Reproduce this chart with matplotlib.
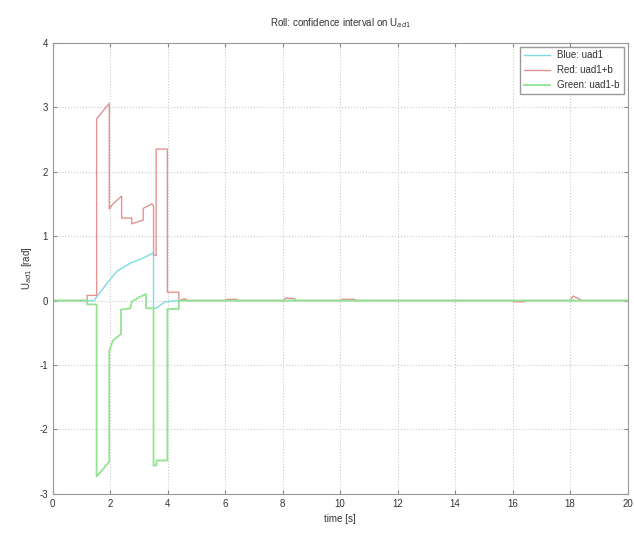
import matplotlib.pyplot as plt

plt.rcParams['font.family'] = ['Liberation Sans', 'DejaVu Sans']
plt.rcParams['axes.unicode_minus'] = False

# knot points (time [s], value [rad])
blue_t = [0, 1.45, 1.55, 1.95, 2.25, 2.7, 3.1, 3.51, 3.51, 3.6, 3.9, 4.4, 20]
blue_y = [0, 0.0, 0.07, 0.30, 0.46, 0.58, 0.65, 0.74, -0.12, -0.12, -0.02, 0.0, 0]

red_t = [0, 1.2, 1.2, 1.53, 1.53, 1.97, 1.97, 2.1, 2.4, 2.4, 2.75, 2.75, 3.15,
         3.15, 3.45, 3.51, 3.51, 3.6, 3.6, 3.99, 3.99, 4.39, 4.39, 4.6, 4.7,
         6.0, 6.05, 6.4, 6.45, 8.0, 8.1, 8.4, 8.5, 10.0, 10.05, 10.5, 10.55,
         16.0, 16.05, 16.4, 16.45, 18.0, 18.1, 18.3, 18.4, 20]
red_y = [0, 0, 0.08, 0.08, 2.82, 3.06, 1.42, 1.5, 1.62, 1.28, 1.28, 1.19, 1.25,
         1.43, 1.5, 1.47, 0.70, 0.70, 2.35, 2.35, 0.13, 0.13, 0.0, 0.03, 0.0,
         0, 0.02, 0.02, 0, 0, 0.04, 0.03, 0, 0, 0.02, 0.02, 0,
         0, -0.02, -0.02, 0, 0, 0.07, 0.03, 0, 0]

green_t = [0, 1.2, 1.2, 1.53, 1.53, 1.97, 1.97, 2.1, 2.38, 2.38, 2.7, 2.75,
           3.0, 3.25, 3.25, 3.51, 3.51, 3.6, 3.62, 3.99, 3.99, 4.39, 4.39, 20]
green_y = [0, 0, -0.06, -0.06, -2.73, -2.50, -0.78, -0.62, -0.52, -0.14, -0.12,
           -0.02, 0.05, 0.10, -0.12, -0.12, -2.56, -2.56, -2.48, -2.48, -0.13,
           -0.13, 0.0, 0]

fig = plt.figure(figsize=(6.34, 5.34), dpi=100)
ax = fig.add_axes([0.083, 0.075, 0.907, 0.845])

ax.plot(blue_t, blue_y, color='#7fdbe3', lw=1.0, label='Blue: uad1')
ax.plot(red_t, red_y, color='#e39393', lw=1.0, label='Red: uad1+b')
ax.plot(green_t, green_y, color='#93e393', lw=1.3, label='Green: uad1-b')

ax.set_xlim(0, 20)
ax.set_ylim(-3, 4)
ax.set_xticks(range(0, 21, 2))
ax.set_yticks(range(-3, 5))
ax.grid(True, color='#cccccc', linestyle=':', linewidth=0.8)
ax.tick_params(direction='in', top=True, right=True, labelsize=7,
               length=3, color='#888888', labelcolor='#333333')
for s in ax.spines.values():
    s.set_color('#999999')

ax.set_title('Roll: confidence interval on U$_{ad1}$', fontsize=7, pad=12, color='#333333')
ax.set_xlabel('time [s]', fontsize=7, color='#333333')
ax.set_ylabel('U$_{ad1}$ [rad]', fontsize=7, color='#333333')

leg = ax.legend(loc='upper right', fontsize=7, fancybox=False, framealpha=1,
                edgecolor='#999999', borderaxespad=0.4, handlelength=2.6)
for t in leg.get_texts():
    t.set_color('#333333')

fig.savefig('out.png', dpi=100)
